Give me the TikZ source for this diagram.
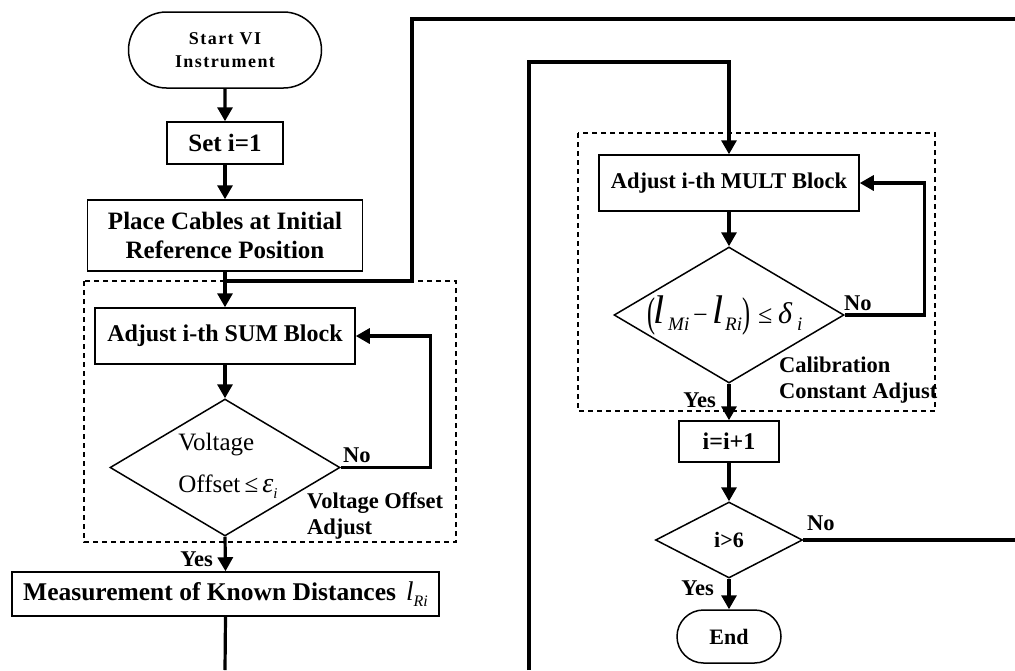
\documentclass[tikz,border=0pt]{standalone}
\usepackage{graphicx}
\usepackage{fontspec}
\setmainfont{Liberation Serif}
\usetikzlibrary{arrows.meta,shapes.geometric,shapes.misc}
\newcommand{\fsz}[2]{\fontsize{#1}{#2}\selectfont}
\newcommand{\pc}[2]{\makebox[#1pt][l]{#2}}
\begin{document}
\begin{tikzpicture}[x=1pt,y=-1pt,
  box/.style={draw,line width=1.5pt,inner sep=0pt,align=center,font=\bfseries\fsz{25}{29}},
  term/.style={box,rounded rectangle},
  dia/.style={draw,diamond,line width=1.5pt,inner sep=0pt},
  conn/.style={line width=3.2pt},
  arr/.style={conn,-{Triangle[width=15pt,length=14pt]}},
  lbl/.style={inner sep=0pt,font=\bfseries\fsz{22.5}{26},align=left},
  grp/.style={draw,line width=1.2pt,dash pattern=on 5pt off 4pt}]
\useasboundingbox (0,0) rectangle (1015,670);

% group frames
\draw[grp] (84,281) rectangle (456,542);
\draw[grp] (578,133) rectangle (935,411);

% left column
\node[term,minimum width=193pt,minimum height=76pt,font=\bfseries\fsz{18}{23}\addfontfeatures{LetterSpace=8}] (start) at (225,50) {Start VI\\Instrument};
\node[box,minimum width=116pt,minimum height=42pt] (set) at (225,143) {Set i=1};
\node[box,minimum width=275pt,minimum height=71pt] (place) at (225,235.5) {Place Cables at Initial\\Reference Position};
\node[box,minimum width=260pt,minimum height=56pt,font=\bfseries\fsz{24}{29}] (sum) at (225,336) {Adjust i-th SUM Block};
\node[dia,minimum width=230pt,minimum height=137pt] (d1) at (225,467.5) {};
\node[inner sep=0pt,align=left,font=\fsz{25}{42}] (d1t) at (228,466) {Voltage\\Offset\,≤\,{\fsz{28}{42}\itshape ε}\raisebox{-6pt}{\fsz{15}{15}\itshape i}};
\node[box,minimum width=427pt,minimum height=44pt] (meas) at (225.5,594) {\fsz{25.5}{29}Measurement of Known Distances\hspace{10pt}{\mdseries\itshape\fsz{27}{30}l}\raisebox{-6pt}{\mdseries\itshape\fsz{16}{16}Ri}};

% right column
\node[box,minimum width=260pt,minimum height=56pt,font=\bfseries\fsz{22.5}{28}] (mult) at (729,183) {Adjust i-th MULT Block};
\node[dia,minimum width=230pt,minimum height=136pt] (d2) at (729,315) {};
\node[inner sep=0pt,anchor=base west] (d2t) at (647,323) {\pc{6}{\raisebox{-3pt}{\scalebox{0.75}[1.3]{\fsz{32}{32}(}}}\pc{15}{\fsz{40}{40}\itshape l}\pc{25}{\raisebox{-7pt}{\fsz{19}{19}\itshape Mi}}\pc{19}{\fsz{26}{26}−}\pc{13}{\fsz{40}{40}\itshape l}\pc{17}{\raisebox{-7pt}{\fsz{19}{19}\itshape Ri}}\pc{16}{\raisebox{-3pt}{\scalebox{0.75}[1.3]{\fsz{32}{32})}}}\pc{20}{\fsz{26}{26}≤}\pc{19}{\fsz{30}{30}\itshape δ}\pc{5}{\raisebox{-7pt}{\fsz{19}{19}\itshape i}}};
\node[box,minimum width=100pt,minimum height=41pt,font=\bfseries\fsz{24}{28}] (inc) at (729,441.5) {i=i+1};
\node[dia,minimum width=147pt,minimum height=76pt,font=\bfseries\fsz{22}{26}] (d3) at (729,540) {i>6};
\node[term,minimum width=104pt,minimum height=53pt,font=\bfseries\fsz{22}{26}] (endn) at (729,636.5) {End};

% free ends and bends
\coordinate (j1) at (225,281);
\coordinate (jr) at (412,19);
\coordinate (topr) at (1015,19);
\coordinate (b1) at (225,670);
\coordinate (b2) at (529,670);
\coordinate (l2) at (529,62);
\coordinate (r3) at (1015,540);

% connectors
\draw[arr] (start) -- (set);
\draw[arr] (set) -- (place);
\draw[arr] (place.south) -- (sum.north);
\draw[conn] (j1) -| (jr) -- (topr);
\draw[arr] (sum) -- (d1);
\draw[arr] (d1.east) -- ++(90,0) |- (sum.east);
\draw[arr] (d1.south) -- (meas.north);
\draw[conn] (meas.south) -- (b1);
\draw[arr] (b2) -- (l2) -| (mult.north);
\draw[arr] (mult) -- (d2);
\draw[arr] (d2.east) -- ++(80,0) |- (mult.east);
\draw[arr] (d2.south) -- (inc.north);
\draw[arr] (inc) -- (d3);
\draw[conn] (d3.east) -- (r3);
\draw[arr] (d3.south) -- (endn.north);

% labels
\node[lbl,anchor=west] (no1) at (343,455) {No};
\node[lbl,anchor=west] (vo) at (307,516) {Voltage Offset\\Adjust};
\node[lbl,anchor=east] (yes1) at (213,559) {Yes};
\node[lbl,anchor=west] (no2) at (844,303) {No};
\node[lbl,anchor=west] (ca) at (779,380) {Calibration\\Constant Adjust};
\node[lbl,anchor=east] (yes2) at (716,400) {Yes};
\node[lbl,anchor=west] (no3) at (807,523) {No};
\node[lbl,anchor=east] (yes3) at (714,588) {Yes};
\end{tikzpicture}
\end{document}
